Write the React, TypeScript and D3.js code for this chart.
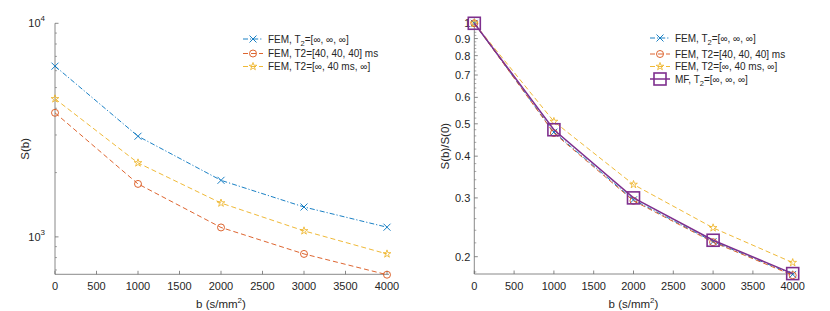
import React from "react";
import * as d3 from "d3";

const bValues = [0, 1000, 2000, 3000, 4000];
const femInf = [6300, 2960, 1840, 1380, 1110];
const femT40 = [3810, 1770, 1107, 832, 665];
const femMid = [4430, 2220, 1440, 1067, 832];
const normInf = [1, 0.472, 0.296, 0.222, 0.177];
const normT40 = [1, 0.469, 0.294, 0.221, 0.176];
const normMid = [1, 0.508, 0.329, 0.244, 0.192];
const normMF = [1, 0.48, 0.3, 0.224, 0.178];
const xTicks = [0, 500, 1000, 1500, 2000, 2500, 3000, 3500, 4000];
const leftMajor = [1000, 10000];
const leftMinor = [700, 800, 900, 2000, 3000, 4000, 5000, 6000, 7000, 8000, 9000];
const rightMajor = [0.2, 0.3, 0.4, 0.5, 0.6, 0.7, 0.8, 0.9, 1];
const rightMinor = d3.range(9, 51).map((i) => i * 0.02).filter((v) => Math.abs(v * 10 - Math.round(v * 10)) > 1e-6);

const BLUE = "#0072BD";
const ORANGE = "#D95319";
const YELLOW = "#EDB120";
const PURPLE = "#7E2F8E";
const FONT = "'Liberation Sans', Arial, Helvetica, sans-serif";
const TXT = "#262626";
const AX = "#6b6b6b";

type Series = { vals: number[]; color: string; dash: string; marker: string; width: number; size: number };

function Marker({ x, y, kind, color, size }: { x: number; y: number; kind: string; color: string; size: number }) {
  if (kind === "x") {
    const s = size;
    return (
      <g stroke={color} strokeWidth={0.9}>
        <line x1={x - s} y1={y - s} x2={x + s} y2={y + s} />
        <line x1={x - s} y1={y + s} x2={x + s} y2={y - s} />
      </g>
    );
  }
  if (kind === "o") return <circle cx={x} cy={y} r={size} fill="none" stroke={color} strokeWidth={0.9} />;
  if (kind === "star") {
    const p = d3.symbol().type(d3.symbolStar).size(size * size * 1.15)()!;
    return <path d={p} transform={`translate(${x},${y})`} fill="none" stroke={color} strokeWidth={0.8} />;
  }
  return <rect x={x - size} y={y - size} width={size * 2} height={size * 2} fill="none" stroke={color} strokeWidth={1.6} />;
}

function Panel({ x0, x1, yTop, yBot, ydom, major, minor, fmt, ylabel, ylabelX, series, legend, legX, legRows }: any) {
  const xs = d3.scaleLinear().domain([0, 4000]).range([x0, x1]);
  const ys = d3.scaleLog().domain(ydom).range([yBot, yTop]);
  const line = d3.line<number>().x((_, i) => xs(bValues[i])).y((v) => ys(v));
  return (
    <g fontFamily={FONT}>
      <line x1={x0} y1={yTop} x2={x0} y2={yBot} stroke={AX} strokeWidth={0.8} />
      <line x1={x0} y1={yBot} x2={x1 + 2} y2={yBot} stroke={AX} strokeWidth={0.8} />
      {xTicks.map((t) => (
        <g key={t}>
          <line x1={xs(t)} x2={xs(t)} y1={yBot} y2={yBot - 3.5} stroke={AX} strokeWidth={0.8} />
          <text x={xs(t)} y={yBot + 16} fontSize={11} fill={TXT} textAnchor="middle">{t}</text>
        </g>
      ))}
      {major.map((t: number) => (
        <g key={t}>
          <line x1={x0} x2={x0 + 3.5} y1={ys(t)} y2={ys(t)} stroke={AX} strokeWidth={0.8} />
          {fmt(t, x0 - 4, ys(t))}
        </g>
      ))}
      {minor.map((t: number) => (
        <line key={t} x1={x0} x2={x0 + 2} y1={ys(t)} y2={ys(t)} stroke={AX} strokeWidth={0.6} />
      ))}
      <text x={(x0 + x1) / 2} y={yBot + 34} fontSize={11.5} fill={TXT} textAnchor="middle">
        b (s/mm<tspan dy={-5} fontSize={8}>2</tspan><tspan dy={5}>)</tspan>
      </text>
      <text transform={`translate(${ylabelX},${(yTop + yBot) / 2}) rotate(-90)`} fontSize={11.5} fill={TXT} textAnchor="middle">{ylabel}</text>
      {series.map((s: Series, k: number) => (
        <g key={k}>
          <path d={line(s.vals)!} fill="none" stroke={s.color} strokeWidth={s.width} strokeDasharray={s.dash} />
          {s.vals.map((v, i) => (
            <Marker key={i} x={xs(bValues[i])} y={ys(v)} kind={s.marker} color={s.color} size={s.size} />
          ))}
        </g>
      ))}
      {legend.map((lab: any, k: number) => {
        const s: Series = series[k];
        const y = legRows[k];
        return (
          <g key={k}>
            <line x1={legX} x2={legX + 20} y1={y} y2={y} stroke={s.color} strokeWidth={s.width} strokeDasharray={s.dash} />
            <Marker x={legX + 10} y={y} kind={s.marker} color={s.color} size={s.size} />
            <text x={legX + 25} y={y + 3.5} fontSize={10} fill={TXT}>{lab}</text>
          </g>
        );
      })}
    </g>
  );
}

const labInf = (pre: string) => (
  <>
    {pre}, T<tspan dy={3} fontSize={7.5}>2</tspan><tspan dy={-3}>=[∞, ∞, ∞]</tspan>
  </>
);
const legendLabels = [labInf("FEM"), "FEM, T2=[40, 40, 40] ms", "FEM, T2=[∞, 40 ms, ∞]", labInf("MF")];

export default function App() {
  const sLeft: Series[] = [
    { vals: femInf, color: BLUE, dash: "5,2,1.2,2", marker: "x", width: 0.9, size: 3.5 },
    { vals: femT40, color: ORANGE, dash: "5,3", marker: "o", width: 0.9, size: 3.5 },
    { vals: femMid, color: YELLOW, dash: "5,3", marker: "star", width: 0.9, size: 4 },
  ];
  const sRight: Series[] = [
    { vals: normInf, color: BLUE, dash: "5,2,1.2,2", marker: "x", width: 0.9, size: 3.5 },
    { vals: normT40, color: ORANGE, dash: "5,3", marker: "o", width: 0.9, size: 3.5 },
    { vals: normMid, color: YELLOW, dash: "5,3", marker: "star", width: 0.9, size: 4 },
    { vals: normMF, color: PURPLE, dash: "", marker: "sq", width: 1.5, size: 6 },
  ];
  const fmtPow = (t: number, x: number, y: number) => (
    <text x={x - 6} y={y + 4} fontSize={11} fill={TXT} textAnchor="end">
      10<tspan dy={-6} fontSize={8}>{Math.round(Math.log10(t))}</tspan>
    </text>
  );
  const fmtDec = (t: number, x: number, y: number) => (
    <text x={x} y={y + 4} fontSize={11} fill={TXT} textAnchor="end">{t === 1 ? "1" : String(t)}</text>
  );
  return (
    <svg width={830} height={311} style={{ position: "absolute", left: 0, top: 0, background: "#fff" }}>
      <Panel x0={55} x1={387} yTop={23.3} yBot={274.3} ydom={[668, 10000]} major={leftMajor} minor={leftMinor}
        fmt={fmtPow} ylabel="S(b)" ylabelX={29} series={sLeft} legend={legendLabels.slice(0, 3)} legX={243} legRows={[39, 53.5, 66.5]} />
      <Panel x0={474.3} x1={792.7} yTop={18.3} yBot={274} ydom={[0.1775, 1.035]} major={rightMajor} minor={rightMinor}
        fmt={fmtDec} ylabel="S(b)/S(0)" ylabelX={449} series={sRight} legend={legendLabels} legX={650} legRows={[38, 54, 66.5, 79]} />
    </svg>
  );
}
